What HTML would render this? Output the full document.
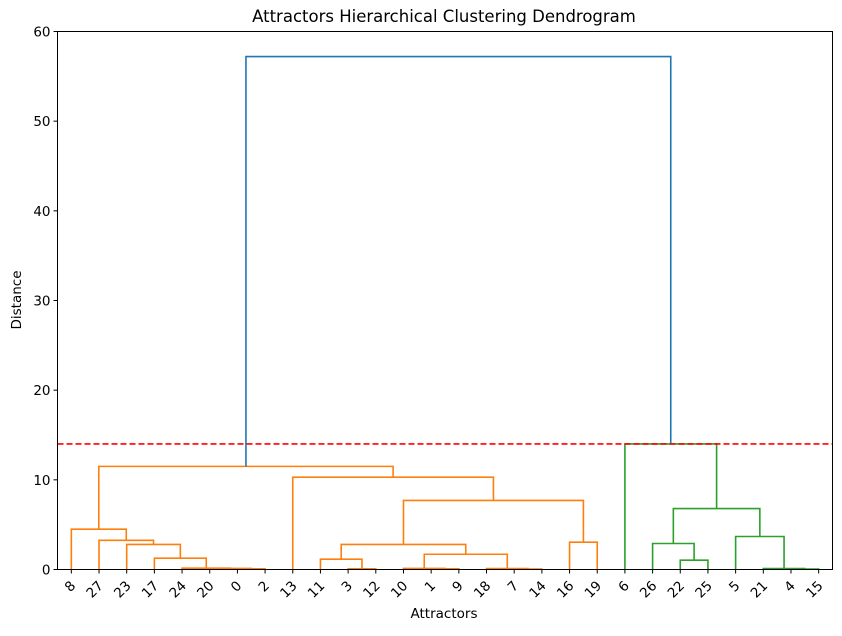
<!DOCTYPE html>
<html><head><meta charset="utf-8"><style>
body{margin:0;background:#fff;}
svg text{font-family:"DejaVu Sans","Liberation Sans",sans-serif;fill:#000;}
</style></head><body>
<svg id="chart" width="842" height="631">
<text x="444" y="22" text-anchor="middle" font-size="16.5">Attractors Hierarchical Clustering Dendrogram</text>
<text x="444" y="618" text-anchor="middle" font-size="13.5">Attractors</text>
<text x="21" y="300" text-anchor="middle" font-size="13.5" transform="rotate(-90 21 300)">Distance</text>
<g id="marks"></g>
<rect x="57.5" y="31.5" width="775" height="538" fill="none" stroke="#000" stroke-width="1"/>
</svg>
<script>
const leafOrder = [8,27,23,17,24,20,0,2,13,11,3,12,10,1,9,18,7,14,16,19,6,26,22,25,5,21,4,15];
// merges: [childA, childB, height, color]; ids >= 28 refer to earlier merges (28 + index)
const mergeLeft   = [0,20,24,17,23,27,8, 3,11,1,10,7,18,38,36,16,42,13,34, 22,26,4,21,5,48,6,46];
const mergeRight  = [2,28,29,30,31,32,33, 12,35,9,37,14,39,40,41,19,43,44,45, 25,47,15,49,50,51,52,53];
const mergeHeight = [0.08,0.12,0.15,1.26,2.8,3.25,4.5, 0.08,1.15,0.08,0.12,0.05,0.1,1.7,2.8,3.05,7.7,10.3,11.5, 1.04,2.9,0.05,0.1,3.68,6.8,14.0,57.2];
const mergeColor  = ['o','o','o','o','o','o','o', 'o','o','o','o','o','o','o','o','o','o','o','o', 'g','g','g','g','g','g','g','b'];
const threshold = 14;
const yTicks = [0,10,20,30,40,50,60];

const colors = {o:'#ff7f0e', g:'#2ca02c', b:'#1f77b4'};
const X0=57.5, X1=832.5, Y0=569.5, Y1=31.5;
const N = leafOrder.length;
const xScale = i => X0 + (5 + 10*i) / (10*N) * (X1 - X0);
const yScale = v => Y0 - v/60 * (Y0 - Y1);
const NS = 'http://www.w3.org/2000/svg';
const g = document.getElementById('marks');
function mk(tag, attrs){const e=document.createElementNS(NS,tag);for(const k in attrs)e.setAttribute(k,attrs[k]);g.appendChild(e);return e;}

yTicks.forEach(t=>{
  const y=yScale(t);
  const l=mk('line',{x1:X0-4,x2:X0,y1:y,y2:y,stroke:'#000'});
  
  
  const tx=mk('text',{x:X0-7,y:y+5,'text-anchor':'end','font-size':'13.5'});
  tx.textContent=t;
  
  
});
const pos = {}, hgt = {};
leafOrder.forEach((lab,i)=>{
  const x=xScale(i); pos[lab]=x; hgt[lab]=0;
  const l=mk('line',{x1:x,x2:x,y1:Y0,y2:Y0+4,stroke:'#000'});
  
  
  const tx=mk('text',{x:x+5,y:Y0+17,'text-anchor':'end','font-size':'13.5',transform:`rotate(-45 ${x+5} ${Y0+17})`});
  tx.textContent=lab;
  
  
});
mergeLeft.forEach((a,k)=>{
  const b=mergeRight[k], h=mergeHeight[k], id=N+k;
  const xa=pos[a], xb=pos[b], ya=yScale(hgt[a]), yb=yScale(hgt[b]), yh=yScale(h);
  const p=mk('path',{d:`M${xa},${ya}V${yh}H${xb}V${yb}`,fill:'none',stroke:colors[mergeColor[k]],'stroke-width':'1.6'});
  
  
  pos[id]=(xa+xb)/2; hgt[id]=h;
});
const ty=yScale(threshold);
const tl=mk('line',{x1:X0,x2:X1,y1:ty,y2:ty,stroke:'#ff0000','stroke-width':'1.6','stroke-dasharray':'6,3'});


</script>
</body></html>
